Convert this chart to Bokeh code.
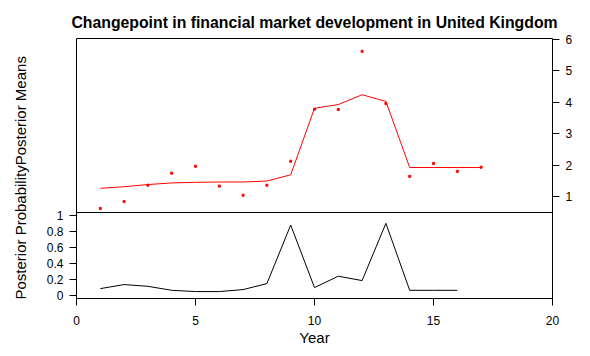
import math
from bokeh.plotting import figure
from bokeh.layouts import row
from bokeh.models import Range1d, LinearAxis, FixedTicker, Span, Label
from bokeh.embed import file_html
from bokeh.resources import INLINE

# ---- data ----
years = list(range(1, 18))
observed = [0.62, 0.84, 1.36, 1.74, 1.96, 1.33, 1.04, 1.36, 2.12, 3.77,
            3.76, 5.61, 3.95, 1.64, 2.05, 1.80, 1.93]
posterior_means = [1.26, 1.31, 1.38, 1.43, 1.45, 1.46, 1.46, 1.49, 1.69, 3.80,
                   3.92, 4.23, 4.02, 1.92, 1.92, 1.92, 1.92]
prob_years = list(range(1, 17))
posterior_prob = [0.084, 0.135, 0.113, 0.063, 0.047, 0.047, 0.072, 0.147, 0.883,
                  0.097, 0.24, 0.185, 0.904, 0.063, 0.063, 0.063]
x_ticks = [0, 5, 10, 15, 20]
prob_ticks = [0, 0.2, 0.4, 0.6, 0.8, 1]
prob_labels = ["0", "0.2", "0.4", "0.6", "0.8", "1"]
mean_ticks = [1, 2, 3, 4, 5, 6]

FONT = "Liberation Sans"
H = 348
LW = 36  # width of the strip that holds the rotated y label

p = figure(width=582 - LW, height=H,
           x_range=Range1d(0, 20), y_range=Range1d(-0.04, 3.225),
           output_backend="svg", toolbar_location=None,
           x_axis_location=None, y_axis_location=None,
           min_border_left=76 - LW, min_border_right=30,
           min_border_top=38, min_border_bottom=50,
           title="Changepoint in financial market development in United Kingdom")
p.extra_y_ranges = {"top": Range1d(-2.238, 6.016)}
p.xgrid.visible = False
p.ygrid.visible = False
p.outline_line_color = "black"
p.outline_line_width = 1
p.background_fill_color = "white"
p.border_fill_color = "white"

p.title.text_font = FONT
p.title.text_font_style = "bold"
p.title.text_font_size = "15.8px"
p.title.align = "center"
p.title.text_color = "black"
p.title.standoff = 16

def style_axis(ax):
    ax.axis_line_color = "black"
    ax.major_tick_line_color = "black"
    ax.major_tick_out = 7
    ax.major_tick_in = 0
    ax.minor_tick_line_color = None
    ax.major_label_text_font = FONT
    ax.major_label_text_font_size = "12px"
    ax.major_label_text_color = "black"
    ax.major_label_standoff = 6

xax = LinearAxis(ticker=FixedTicker(ticks=x_ticks), axis_label="Year")
style_axis(xax)
xax.major_label_standoff = 10
xax.axis_label_text_font = FONT
xax.axis_label_text_font_size = "15px"
xax.axis_label_text_font_style = "normal"
xax.axis_label_text_color = "black"
xax.axis_label_standoff = 1
p.add_layout(xax, "below")

lax = LinearAxis(ticker=FixedTicker(ticks=prob_ticks), bounds=(0, 1))
style_axis(lax)
lax.major_label_overrides = {t: l for t, l in zip(prob_ticks, prob_labels)}
p.add_layout(lax, "left")

rax = LinearAxis(y_range_name="top", ticker=FixedTicker(ticks=mean_ticks), bounds=(1, 6))
style_axis(rax)
p.add_layout(rax, "right")

# separator between the two panels
p.add_layout(Span(location=1.04, dimension="width", line_color="black", line_width=1))

# top panel: posterior means and observations
p.line(years, posterior_means, y_range_name="top", line_color="red", line_width=1)
p.scatter(years, observed, y_range_name="top", marker="square", size=2,
          fill_color="red", line_color="red")

# bottom panel: posterior probability
p.line(prob_years, posterior_prob, line_color="black", line_width=1)

# left strip with the rotated y-axis title
lab = figure(width=LW, height=H, x_range=Range1d(0, LW), y_range=Range1d(0, H),
             output_backend="svg", toolbar_location=None,
             x_axis_location=None, y_axis_location=None, min_border=0)
lab.xgrid.visible = False
lab.ygrid.visible = False
lab.outline_line_color = None
lab.background_fill_color = "white"
lab.border_fill_color = "white"
lab.add_layout(Label(x=20, y=H - 186.5, text="Posterior ProbabilityPosterior Means",
                     angle=math.pi / 2, text_align="center", text_baseline="middle",
                     text_font=FONT, text_font_size="15px", text_color="black"))

layout = row(lab, p, spacing=0)
open("out.html", "w").write(file_html(layout, INLINE))
